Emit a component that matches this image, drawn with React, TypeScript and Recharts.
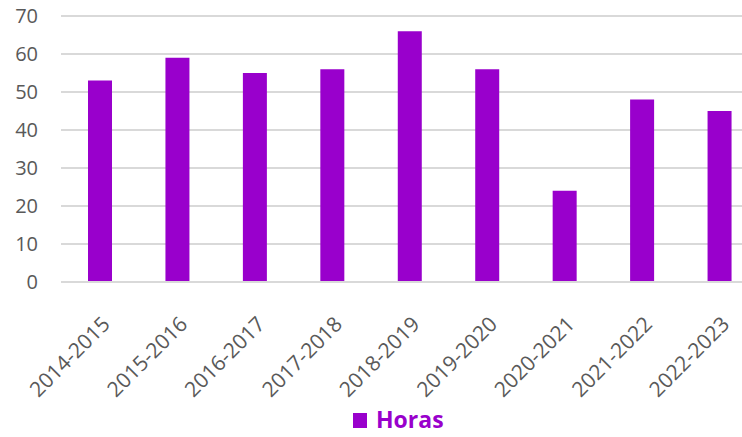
import React from 'react';
import { BarChart, Bar, XAxis, YAxis, CartesianGrid, Legend } from 'recharts';

const seasons = ['2014-2015', '2015-2016', '2016-2017', '2017-2018', '2018-2019', '2019-2020', '2020-2021', '2021-2022', '2022-2023'];
const horas = [53, 59, 55, 56, 66, 56, 24, 48, 45];
const yTicks = [0, 10, 20, 30, 40, 50, 60, 70];

const PURPLE = '#9900CC';
const GREY_TEXT = '#595959';
const FONT = '"Open Sans", sans-serif';

const data = seasons.map((s, i) => ({ name: s, Horas: horas[i] }));

// rotated category labels, like the excel original
const SlantTick = (props: any) => {
  const { x, y, payload } = props;
  return (
    <g transform={`translate(${x + 1},${y + 25})`}>
      <text
        x={0}
        y={0}
        dy="0.71em"
        textAnchor="end"
        transform="rotate(-45)"
        fill={GREY_TEXT}
        fontSize={21}
        fontFamily={FONT}
      >
        {payload.value}
      </text>
    </g>
  );
};

const ValueTick = (props: any) => {
  const { y, payload } = props;
  return (
    <text x={38} y={y} dy="0.35em" textAnchor="end" fill={GREY_TEXT} fontSize={20} fontFamily={FONT}>
      {payload.value}
    </text>
  );
};

const LegendBox = () => (
  <div style={{ position: 'relative', height: 40, fontFamily: FONT }}>
    <div style={{ position: 'absolute', left: 353, top: 16, width: 14, height: 15, background: PURPLE }} />
    <div
      style={{
        position: 'absolute',
        left: 376,
        top: 6,
        fontSize: 23,
        fontWeight: 'bold',
        color: PURPLE,
        lineHeight: '32px',
      }}
    >
      Horas
    </div>
  </div>
);

const App: React.FC = () => {
  return (
    <div style={{ position: 'absolute', left: 0, top: 0, width: 742, height: 437, overflow: 'hidden', background: '#fff' }}>
      {/* the plot area runs past the right edge in the reference, so draw wider and clip */}
      <BarChart width={758} height={437} data={data} margin={{ top: 16, right: 0, left: 0, bottom: 0 }}>
        <CartesianGrid vertical={false} stroke="#d9d9d9" strokeWidth={2} />
        <XAxis
          dataKey="name"
          interval={0}
          height={115}
          tickLine={false}
          axisLine={{ stroke: '#d9d9d9', strokeWidth: 2 }}
          tick={<SlantTick />}
        />
        <YAxis
          width={61}
          domain={[0, 70]}
          ticks={yTicks}
          axisLine={false}
          tickLine={false}
          tick={<ValueTick />}
        />
        <Legend verticalAlign="bottom" height={40} content={<LegendBox />} />
        <Bar dataKey="Horas" fill={PURPLE} barSize={24} isAnimationActive={false} />
      </BarChart>
    </div>
  );
};

export default App;
